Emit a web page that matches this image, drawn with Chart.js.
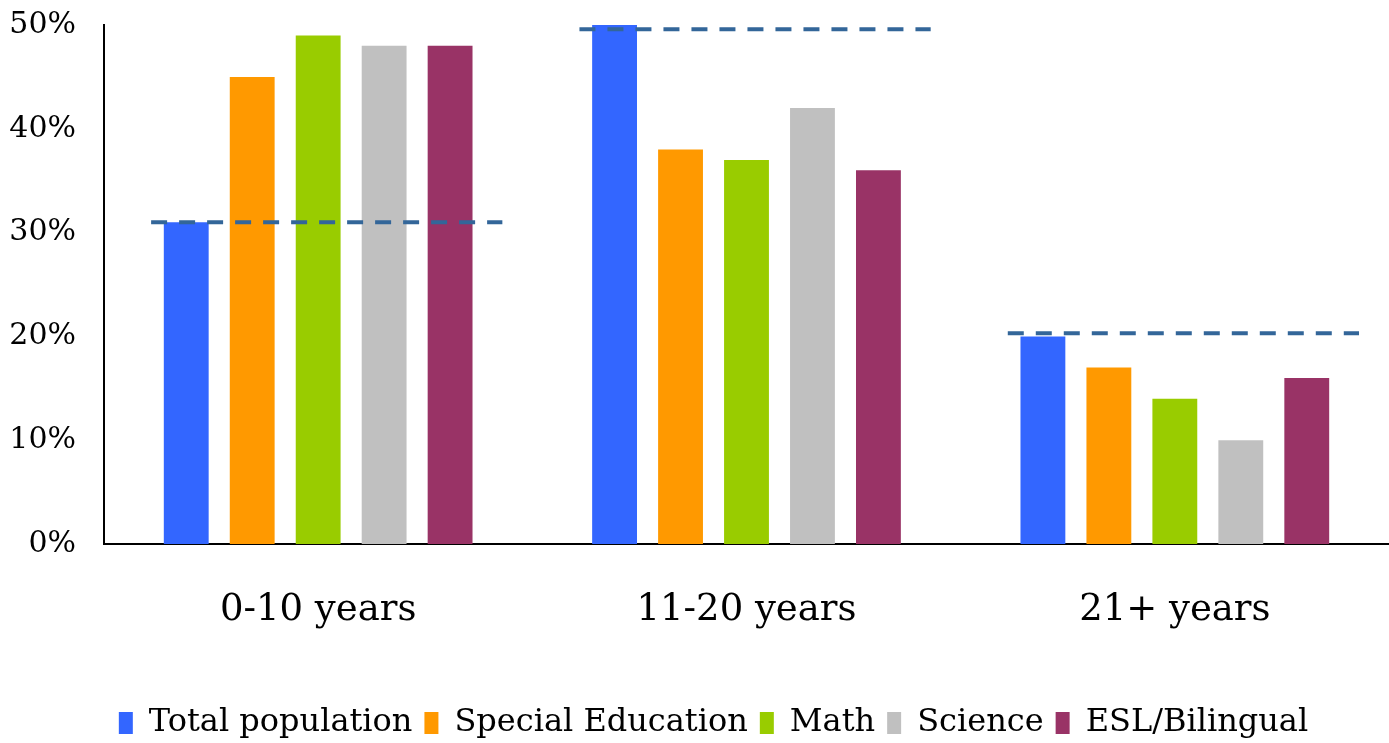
<!DOCTYPE html>
<html>
<head>
<meta charset="utf-8">
<script src="https://cdn.jsdelivr.net/npm/chart.js@4/dist/chart.umd.min.js"></script>
<style>
  html, body { margin: 0; padding: 0; background: #fff; }
  #wrap { width: 1389px; height: 743px; }
</style>
</head>
<body>
<div id="wrap"><canvas id="myChart"></canvas></div>
<script>
// categories and series
const categories = ["0-10 years", "11-20 years", "21+ years"];
const totalPopulation = [31, 50, 20];
const specialEducation = [45, 38, 17];
const math = [49, 37, 14];
const science = [48, 42, 10];
const eslBilingual = [48, 36, 16];
// dashed reference line per group
const benchmark = [31, 49.6, 20.3];
const yTicks = [0, 10, 20, 30, 40, 50];

const colorSet = {
  blue  : "#3366ff",
  orange: "#ff9900",
  green : "#99cc00",
  grey  : "#c0c0c0",
  maroon: "#993366",
  dash  : "#336699",
};

const serif = "'DejaVu Serif', 'Liberation Serif', serif";

// dashed line drawn over each group
const benchmarkLines = {
  id: "benchmarkLines",
  afterDatasetsDraw(chart) {
    const { ctx, scales: { x, y } } = chart;
    const catW = x.width / categories.length;
    ctx.save();
    ctx.strokeStyle = colorSet.dash;
    ctx.lineWidth = 4;
    ctx.setLineDash([16, 12]);
    benchmark.forEach((v, i) => {
      const cx = x.getPixelForValue(i);
      const py = y.getPixelForValue(v);
      ctx.beginPath();
      ctx.moveTo(cx - 0.39 * catW, py);
      ctx.lineTo(cx + 0.43 * catW, py);
      ctx.stroke();
    });
    ctx.restore();
  }
};

// nudge the legend a little right and down, like the original
const legendShift = {
  id: "legendShift",
  afterLayout(chart) {
    const lg = chart.legend;
    if (!lg) return;
    lg.top += 6; lg.bottom += 6;
    const draw = lg.draw.bind(lg);
    lg.draw = function () {
      const c = chart.ctx;
      c.save();
      c.translate(19, 0);
      draw();
      c.restore();
    };
  }
};

const data = {
  labels: categories,
  datasets: [
    { label: "Total population",   data: totalPopulation,  backgroundColor: colorSet.blue },
    { label: "Special Education",  data: specialEducation, backgroundColor: colorSet.orange },
    { label: "Math",               data: math,             backgroundColor: colorSet.green },
    { label: "Science",            data: science,          backgroundColor: colorSet.grey },
    { label: "ESL/Bilingual",      data: eslBilingual,     backgroundColor: colorSet.maroon },
  ]
};

const config = {
  type: "bar",
  data: data,
  plugins: [benchmarkLines, legendShift],
  options: {
    responsive: true,
    maintainAspectRatio: false,
    animation: false,
    categoryPercentage: 0.77,
    barPercentage: 0.68,
    layout: { padding: { left: 0, right: 0, top: 25, bottom: 0 } },
    plugins: {
      legend: {
        position: "bottom",
        labels: {
          boxWidth: 14,
          boxHeight: 22,
          padding: 12,
          color: "#000",
          font: { family: serif, size: 32 }
        }
      },
      tooltip: { enabled: false }
    },
    scales: {
      x: {
        grid: { display: false, drawTicks: false },
        border: { color: "#000", width: 2 },
        ticks: { color: "#000", padding: 44, font: { family: serif, size: 37 } },
        afterFit: (axis) => { axis.height = 145; }
      },
      y: {
        min: 0,
        max: 50,
        afterBuildTicks: (axis) => { axis.ticks = yTicks.map(v => ({ value: v })); },
        afterFit: (axis) => { axis.width = 104; axis.paddingTop = 0; },
        grid: { display: false, drawTicks: false },
        border: { color: "#000", width: 2 },
        ticks: {
          color: "#000",
          padding: 28,
          font: { family: serif, size: 30 },
          callback: (v) => v + "%"
        }
      }
    }
  }
};

const ctx = document.getElementById("myChart");
const myChart = new Chart(ctx, config);
</script>
</body>
</html>
